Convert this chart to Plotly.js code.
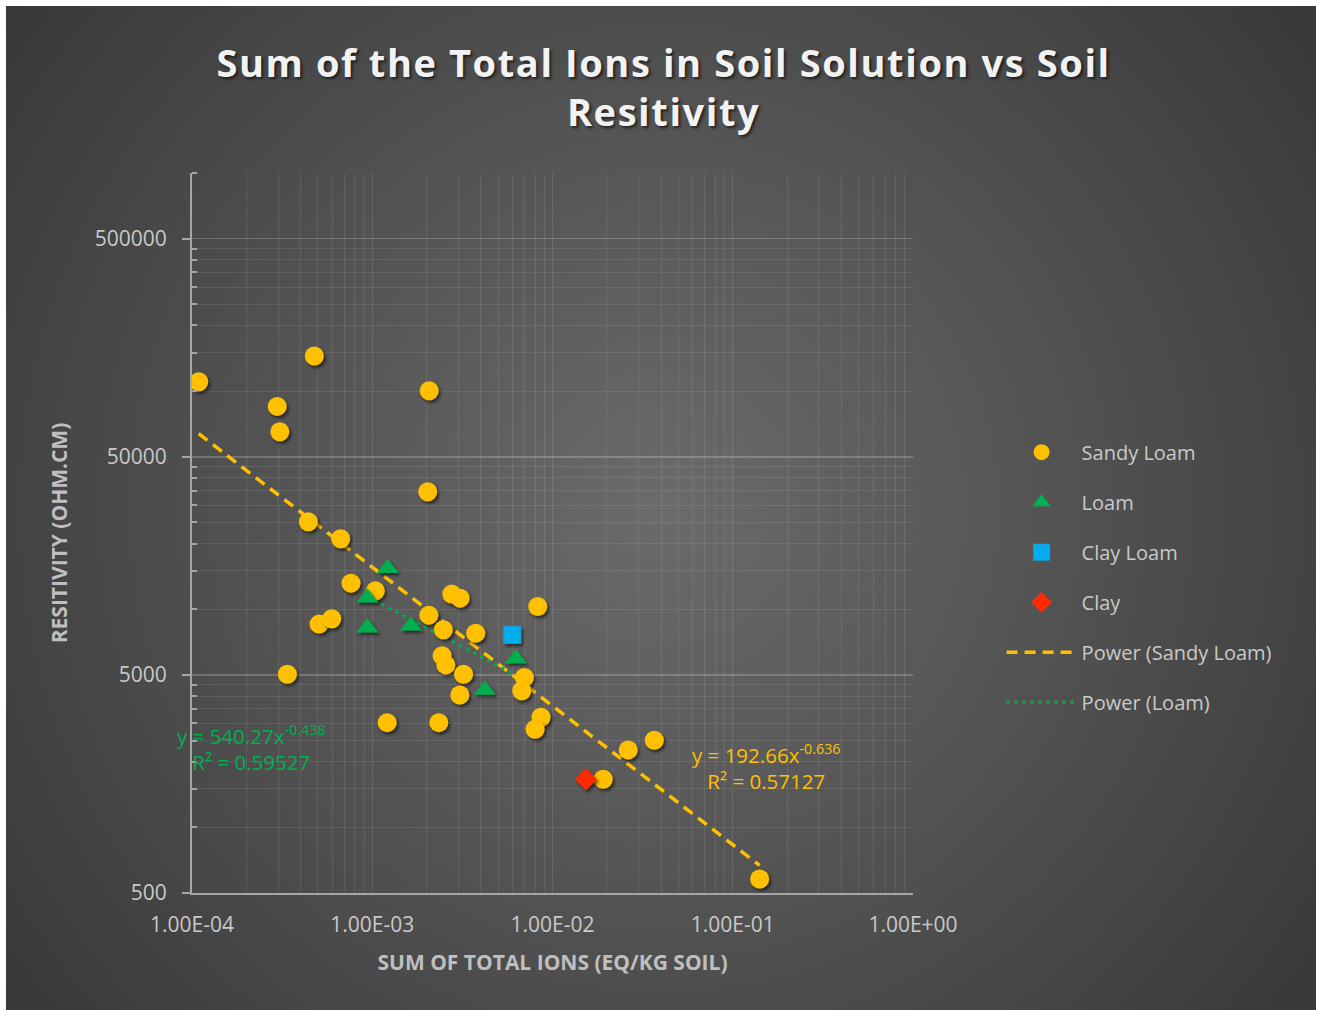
<!DOCTYPE html>
<html>
<head>
<meta charset="utf-8">
<script src="https://cdn.plot.ly/plotly-3.0.1.min.js"></script>
<style>
  html, body { margin: 0; padding: 0; background: #ffffff; }
  #chart {
    position: absolute; left: 6px; top: 6px; width: 1310px; height: 1004px;
    background: radial-gradient(circle farthest-corner at 50% 50%, #6b6b6b 0%, #525252 50%, #383838 100%);
  }
  #chart .scatterlayer .points path { filter: url(#ds); }
  #chart .gtitle { letter-spacing: 1.6px; }
</style>
</head>
<body>
<svg width="0" height="0" style="position:absolute">
  <defs>
    <filter id="ds" x="-60%" y="-60%" width="220%" height="220%">
      <feDropShadow dx="2" dy="2.5" stdDeviation="1.6" flood-color="#000000" flood-opacity="0.55"/>
    </filter>
  </defs>
</svg>
<div id="chart"></div>
<script>
// ---------- data ----------
const sandyX = [1.09e-4, 4.77e-4, 2.97e-4, 3.07e-4, 2.07e-3, 2.03e-3, 4.42e-4, 6.68e-4, 7.62e-4, 1.04e-3,
                5.07e-4, 5.96e-4, 3.38e-4, 2.76e-3, 3.07e-3, 2.06e-3, 2.48e-3, 3.75e-3, 8.28e-3, 2.44e-3,
                2.56e-3, 3.21e-3, 3.06e-3, 1.21e-3, 2.34e-3, 6.98e-3, 6.75e-3, 8.63e-3, 8.0e-3, 2.63e-2,
                3.67e-2, 1.91e-2, 0.141];
const sandyY = [110400, 145000, 85100, 65100, 100400, 34560, 25170, 21030, 13170, 12140,
                8545, 9035, 5037, 11730, 11240, 9395, 8045, 7770, 10290, 6115,
                5557, 5037, 4047, 3020, 3020, 4860, 4226, 3200, 2818, 2265,
                2508, 1662, 580];
const loamX = [1.22e-3, 9.39e-4, 9.4e-4, 1.64e-3, 6.27e-3, 4.22e-3];
const loamY = [15400, 11280, 8215, 8390, 5950, 4266];
const clayLoamX = [5.98e-3];
const clayLoamY = [7630];
const clayX = [1.535e-2];
const clayY = [1662];

// power trendline coefficients (y = a * x^b), as printed on the chart
const sandyFit = {a: 192.66, b: -0.636, r2: 0.57127};
const loamFit = {a: 540.27, b: -0.438, r2: 0.59527};

const xTickVals = [1e-4, 1e-3, 1e-2, 1e-1, 1];
const xTickText = ["1.00E-04", "1.00E-03", "1.00E-02", "1.00E-01", "1.00E+00"];
const yTickVals = [500, 5000, 50000, 500000];
const yTickText = ["500", "5000", "50000", "500000"];

// ---------- helpers ----------
function fitLine(xs, fit) {
  const lo = Math.min(...xs), hi = Math.max(...xs);
  return {x: [lo, hi], y: [fit.a * Math.pow(lo, fit.b), fit.a * Math.pow(hi, fit.b)]};
}
const xMinor = [], yMinor = [];
for (let d = -4; d < 0; d++) for (let k = 2; k <= 9; k++) xMinor.push(k * Math.pow(10, d));
for (let i = 0; i < yTickVals.length - 1; i++) for (let k = 2; k <= 9; k++) yMinor.push(yTickVals[i] * k);
yMinor.push(1000000);

const sTrend = fitLine(sandyX, sandyFit);
const lTrend = fitLine(loamX, loamFit);

const FONT = "'Open Sans', 'DejaVu Sans', sans-serif";
const TXT = "#c9c9c9";

const traces = [
  {x: sTrend.x, y: sTrend.y, name: "Power (Sandy Loam)", mode: "lines", type: "scatter", legendgroup: "g5", legendrank: 5,
   line: {color: "#FFC000", width: 3.5, dash: "11px,7px"}},
  {x: lTrend.x, y: lTrend.y, name: "Power (Loam)", mode: "lines", type: "scatter", legendgroup: "g6", legendrank: 6,
   line: {color: "#00B050", width: 3, dash: "3px,5px"}},
  {x: sandyX, y: sandyY, name: "Sandy Loam", mode: "markers", type: "scatter", legendgroup: "g1", legendrank: 1,
   marker: {symbol: "circle", size: 19, color: "#FFC000"}},
  {x: loamX, y: loamY, name: "Loam", mode: "markers", type: "scatter", legendgroup: "g2", legendrank: 2,
   marker: {symbol: "triangle-up", size: 19, color: "#00B050"}},
  {x: clayLoamX, y: clayLoamY, name: "Clay Loam", mode: "markers", type: "scatter", legendgroup: "g3", legendrank: 3,
   marker: {symbol: "square-x", size: 17, color: "#00B0F0", line: {color: "#1a9ed8", width: 1}}},
  {x: clayX, y: clayY, name: "Clay", mode: "markers", type: "scatter", legendgroup: "g4", legendrank: 4,
   marker: {symbol: "diamond", size: 17, color: "#FF2A00"}}
];

const layout = {
  width: 1310, height: 1004,
  paper_bgcolor: "rgba(0,0,0,0)", plot_bgcolor: "rgba(0,0,0,0)",
  margin: {l: 186, r: 403, t: 167, b: 117},
  font: {family: FONT, color: TXT, size: 20},
  title: {
    text: "Sum of the Total Ions in Soil Solution vs Soil<br>Resitivity",
    x: 0.502, xref: "container", xanchor: "center",
    y: 0.9295, yref: "container", yanchor: "middle",
    font: {family: FONT, size: 38, weight: 700, color: "#f2f2f2", shadow: "2px 2px 3px rgba(0,0,0,0.6)"}
  },
  xaxis: {
    type: "log", range: [-4, 0],
    tickmode: "array", tickvals: xTickVals, ticktext: xTickText,
    showline: true, linecolor: "#a6a6a6", linewidth: 2,
    showgrid: true, gridcolor: "rgba(255,255,255,0.11)", gridwidth: 1,
    ticks: "", ticklabelstandoff: 12,
    tickfont: {size: 21, color: TXT},
    zeroline: false,
    minor: {tickmode: "array", tickvals: xMinor, showgrid: true, gridcolor: "rgba(255,255,255,0.09)", gridwidth: 1, ticks: ""},
    title: {text: "SUM OF TOTAL IONS (EQ/KG SOIL)", standoff: 18,
            font: {size: 21, weight: 700, color: "#bfbfbf"}}
  },
  yaxis: {
    type: "log", range: [Math.log10(500), 6],
    tickmode: "array", tickvals: yTickVals, ticktext: yTickText,
    showline: true, linecolor: "#a6a6a6", linewidth: 2,
    showgrid: true, gridcolor: "rgba(255,255,255,0.2)", gridwidth: 1.5,
    ticks: "outside", ticklen: 8, tickwidth: 2, tickcolor: "#a6a6a6", ticklabelstandoff: 11,
    tickfont: {size: 21, color: TXT},
    zeroline: false,
    minor: {tickmode: "array", tickvals: yMinor, showgrid: true, gridcolor: "rgba(255,255,255,0.09)", gridwidth: 1,
            ticks: "inside", ticklen: 5, tickwidth: 2, tickcolor: "#a6a6a6"},
    title: {text: "RESITIVITY (OHM.CM)", standoff: 21,
            font: {size: 21, weight: 700, color: "#bfbfbf"}}
  },
  legend: {
    x: 0.760, xref: "container", xanchor: "left",
    y: 0.575, yref: "container", yanchor: "top",
    bgcolor: "rgba(0,0,0,0)", borderwidth: 0,
    font: {size: 20, color: TXT},
    traceorder: "grouped", tracegroupgap: 21, itemwidth: 70
  },
  showlegend: true,
  annotations: [
    {xref: "paper", yref: "paper", x: 0.0825, y: 0.2015, xanchor: "center", yanchor: "middle",
     showarrow: false, align: "center",
     text: "y = " + loamFit.a + "x<sup>" + loamFit.b + "</sup><br>R² = " + loamFit.r2,
     font: {size: 20.5, color: "#00B050"}},
    {xref: "paper", yref: "paper", x: 0.797, y: 0.175, xanchor: "center", yanchor: "middle",
     showarrow: false, align: "center",
     text: "y = " + sandyFit.a + "x<sup>" + sandyFit.b + "</sup><br>R² = " + sandyFit.r2,
     font: {size: 20.5, color: "#FFC000"}}
  ]
};

Plotly.newPlot("chart", traces, layout, {displayModeBar: false, staticPlot: true});
</script>
</body>
</html>
